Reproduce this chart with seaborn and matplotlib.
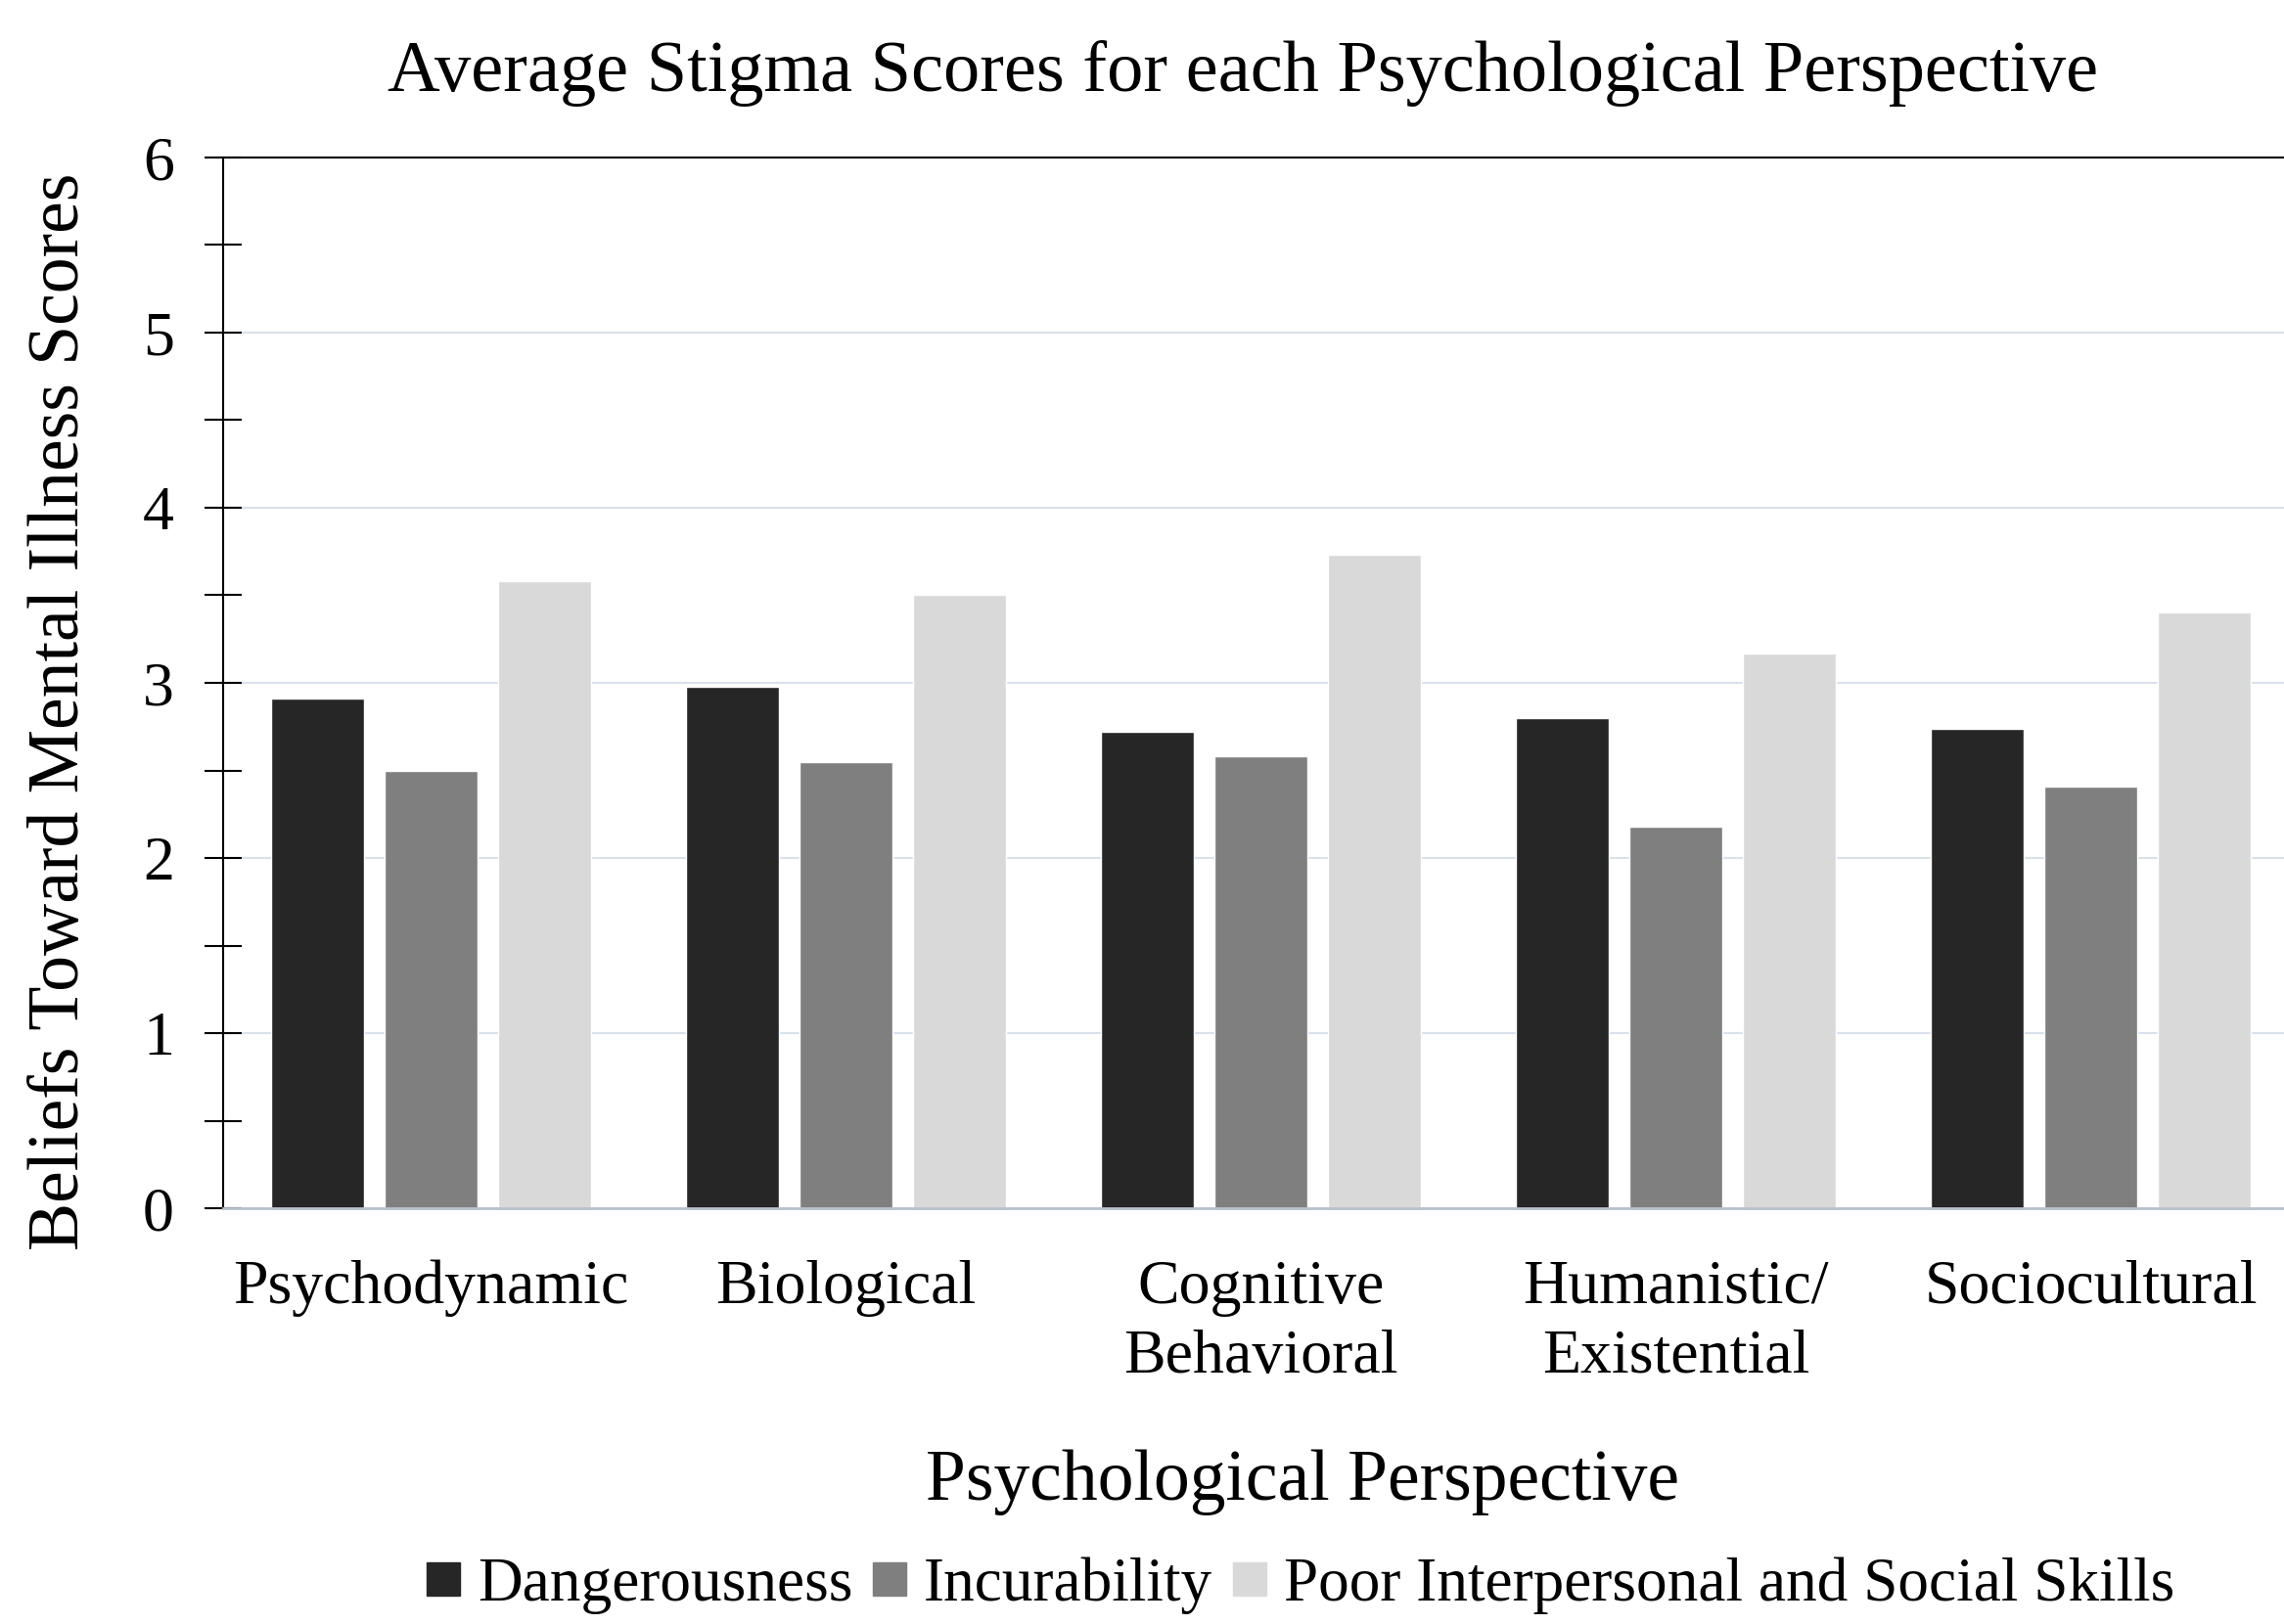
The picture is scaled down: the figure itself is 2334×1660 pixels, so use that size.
import matplotlib
matplotlib.use("Agg")
import matplotlib.pyplot as plt
import seaborn as sns
import pandas as pd
from matplotlib.ticker import MultipleLocator
from matplotlib.lines import Line2D

perspectives = ["Psychodynamic", "Biological", "Cognitive\nBehavioral",
                "Humanistic/\nExistential", "Sociocultural"]
dangerousness = [2.91, 2.98, 2.72, 2.80, 2.74]
incurability = [2.50, 2.55, 2.58, 2.18, 2.41]
poor_skills = [3.58, 3.50, 3.73, 3.17, 3.40]
series_names = ["Dangerousness", "Incurability", "Poor Interpersonal and Social Skills"]
colors = ["#262626", "#7f7f7f", "#d9d9d9"]

rows = []
for name, vals in zip(series_names, [dangerousness, incurability, poor_skills]):
    for p, v in zip(perspectives, vals):
        rows.append({"Perspective": p, "Stigma": name, "Score": v})
df = pd.DataFrame(rows)

sns.set_style("white")
plt.rcParams["font.family"] = ["Liberation Serif", "DejaVu Serif"]
plt.rcParams["text.color"] = "black"
plt.rcParams["xtick.color"] = "black"
plt.rcParams["ytick.color"] = "black"

fig = plt.figure(figsize=(23.34, 16.6), dpi=100)
ax = fig.add_axes([228 / 2334, 1 - 1235 / 1660, (2349 - 228) / 2334, (1235 - 161) / 1660])

sns.barplot(data=df, x="Perspective", y="Score", hue="Stigma", palette=colors,
            width=0.82, gap=0.18, ax=ax, legend=False, saturation=1)

ax.set_xlim(-0.5, 4.5)
ax.set_ylim(0, 6)
ax.yaxis.set_major_locator(MultipleLocator(1))
ax.yaxis.set_minor_locator(MultipleLocator(0.5))
ax.grid(axis="y", color="#d9e1ea", linewidth=1.5)
ax.set_axisbelow(True)

for s in ["top", "left"]:
    ax.spines[s].set_visible(True)
    ax.spines[s].set_color("black")
    ax.spines[s].set_linewidth(1.5)
ax.spines["right"].set_visible(False)
ax.spines["bottom"].set_color("#b8c0cc")
ax.spines["bottom"].set_linewidth(2)

ax.tick_params(axis="y", which="both", direction="inout", length=28, width=1.5,
               left=True, labelsize=46, pad=22, colors="black")
ax.tick_params(axis="x", length=0, labelsize=46, pad=38)
for lbl in ax.get_xticklabels():
    lbl.set_linespacing(1.3)

ax.set_xlabel("")
ax.set_ylabel("")
fig.text(1331 / 2334, 1 - 1515 / 1660, "Psychological Perspective", fontsize=53,
         ha="center", va="center")
fig.text(62 / 2334, 1 - 727 / 1660, "Beliefs Toward Mental Illness Scores", fontsize=53,
         ha="center", va="center", rotation=90)
fig.text(1270 / 2334, 1 - 75 / 1660, "Average Stigma Scores for each Psychological Perspective",
         fontsize=53.5, ha="center", va="center")

handles = [Line2D([0], [0], marker="s", linestyle="", markersize=24, color=c) for c in colors]
fig.legend(handles, series_names, loc="center", bbox_to_anchor=(1328 / 2334, 1 - 1621 / 1660),
           ncol=3, frameon=False, fontsize=45.5, handlelength=0.6, handletextpad=0.25,
           columnspacing=0.3)

fig.savefig("out.png", dpi=100)
